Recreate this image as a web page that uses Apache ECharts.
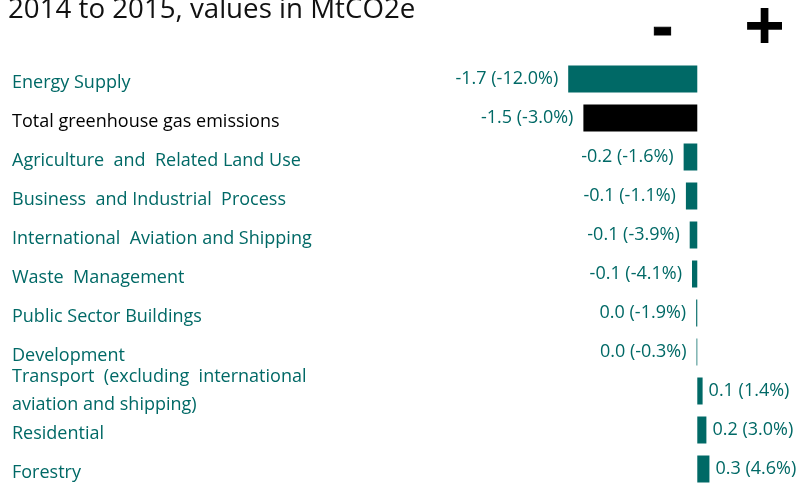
<!DOCTYPE html>
<html>
<head>
<meta charset="utf-8">
<script src="https://cdn.jsdelivr.net/npm/echarts@6/dist/echarts.min.js"></script>
<style>
html,body{margin:0;padding:0;background:#fff;}
#chart{width:797px;height:499px;}
</style>
</head>
<body>
<div id="chart"></div>
<script>
const categories = [
  'Energy Supply',
  'Total greenhouse gas emissions',
  'Agriculture  and  Related Land Use',
  'Business  and Industrial  Process',
  'International  Aviation and Shipping',
  'Waste  Management',
  'Public Sector Buildings',
  'Development',
  'Transport  (excluding  international\naviation and shipping)',
  'Residential',
  'Forestry'
];
// bar lengths as drawn (MtCO2e)
const barValues = [-1.7, -1.5, -0.18, -0.15, -0.1, -0.07, -0.015, -0.01, 0.07, 0.12, 0.16];
// printed change values and percentages
const changeLabels = ['-1.7', '-1.5', '-0.2', '-0.1', '-0.1', '-0.1', '0.0', '0.0', '0.1', '0.2', '0.3'];
const percentLabels = ['-12.0%', '-3.0%', '-1.6%', '-1.1%', '-3.9%', '-4.1%', '-1.9%', '-0.3%', '1.4%', '3.0%', '4.6%'];
const titleText = '2014 to 2015, values in MtCO2e';

const TEAL = '#006966';
const FONT = '"Open Sans", "Noto Sans", sans-serif';

const categoryData = categories.map(function (c, i) {
  const multi = c.indexOf('\n') >= 0;
  return {
    value: c,
    textStyle: {
      color: i === 1 ? '#000' : TEAL,
      verticalAlign: multi ? 'middle' : 'top',
      lineHeight: multi ? 28 : 8
    }
  };
});

const chart = echarts.init(document.getElementById('chart'), null, {renderer: 'canvas'});
chart.setOption({
  animation: false,
  title: {
    text: titleText,
    left: 3,
    top: -9,
    textStyle: {fontFamily: FONT, fontSize: 27.7, fontWeight: 'normal', color: '#111'}
  },
  graphic: [
    {type: 'text', left: 652, top: -1, style: {text: '-', font: 'bold 62px ' + FONT, fill: '#000', stroke: '#000', lineWidth: 1}},
    {type: 'text', left: 744, top: -6, style: {text: '+', font: 'bold 72px ' + FONT, fill: '#000'}}
  ],
  grid: {left: 12, right: 1, top: 59.5, bottom: 10.5, containLabel: false},
  xAxis: {
    type: 'value',
    min: -9.025,
    max: 1.3,
    show: false
  },
  yAxis: {
    type: 'category',
    inverse: true,
    data: categoryData,
    axisLine: {show: false, onZero: false},
    axisTick: {show: false},
    splitLine: {show: false},
    axisLabel: {
      inside: true,
      interval: 0,
      align: 'left',
      margin: 0,
      fontFamily: FONT,
      fontSize: 18
    }
  },
  series: [{
    type: 'bar',
    data: barValues.map(function (v, i) {
      return {
        value: v,
        itemStyle: {color: i === 1 ? '#000' : TEAL},
        label: {position: v < 0 ? 'left' : 'right', distance: v < 0 ? 10 : 6}
      };
    }),
    barWidth: 27,
    label: {
      show: true,
      fontFamily: FONT,
      fontSize: 18,
      color: TEAL,
      formatter: function (p) {
        return changeLabels[p.dataIndex] + ' (' + percentLabels[p.dataIndex] + ')';
      }
    }
  }]
});
</script>
</body>
</html>
